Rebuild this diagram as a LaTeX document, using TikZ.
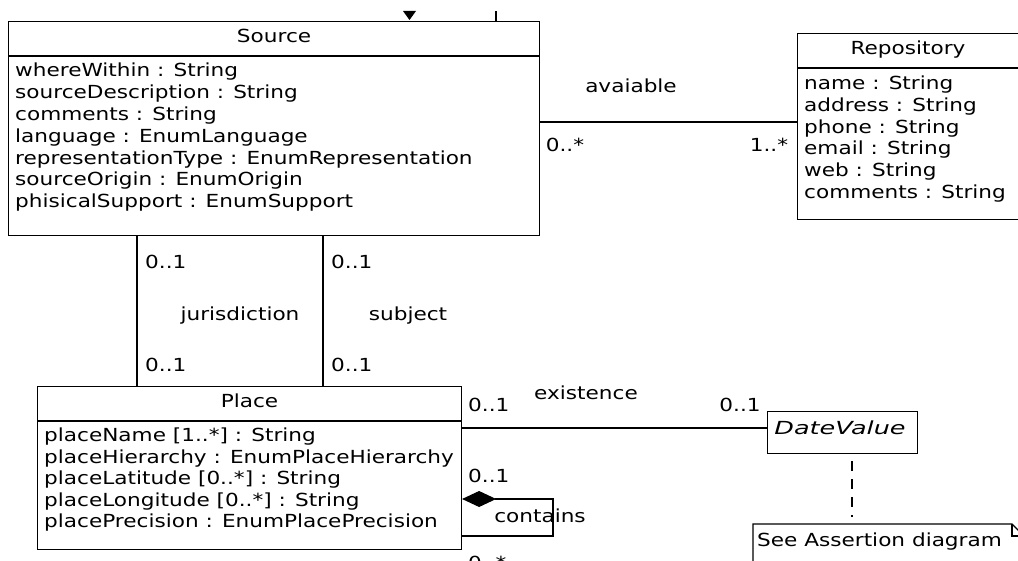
\documentclass[tikz,border=0pt]{standalone}
\usepackage{graphicx}
\usepackage{fontspec}
\setmainfont{DejaVu Sans}[FakeStretch=1.2]
\usetikzlibrary{arrows.meta,calc}
\begin{document}
\begin{tikzpicture}[x=1pt,y=-1pt,
  every node/.style={font=\fontsize{18}{21.8}\selectfont, inner sep=0pt},
  box/.style={draw, line width=1.1pt, anchor=north west, inner sep=0pt},
  attr/.style={anchor=west, text height=13pt, text depth=4pt},
  lbl/.style={text height=13pt, text depth=4pt},
  link/.style={line width=1.1pt},
  noteline/.style={line width=1.1pt, dash pattern=on 10pt off 8pt}]

\useasboundingbox (0,0) rectangle (1018,561);
\clip (0,0) rectangle (1018,561);

% ---------- class boxes ----------
\node[box, minimum width=531pt, minimum height=214pt] (source) at (8,21) {};
\node[box, minimum width=240pt, minimum height=186pt] (repo) at (797,33) {};
\node[box, minimum width=424pt, minimum height=163pt] (place) at (37,386) {};
\node[box, minimum width=150pt, minimum height=42pt] (date) at (767,411) {};

% compartment dividers
\draw[link] ($(source.north west)+(0,35)$) -- ($(source.north east)+(0,35)$);
\draw[link] ($(repo.north west)+(0,35)$) -- ($(repo.north east)+(0,35)$);
\draw[link] ($(place.north west)+(0,35)$) -- ($(place.north east)+(0,35)$);

% class names
\node[lbl] (source-title) at ($(source.north)+(0,17.5)$) {Source};
\node[lbl] (repo-title) at (908,50) {Repository};
\node[lbl] (place-title) at ($(place.north)+(0,17.5)$) {Place};
\node[lbl, font=\fontsize{18}{21.8}\selectfont\itshape] (date-title) at (840,430) {\scalebox{1.18}[1]{DateValue}};

% attributes
\foreach \t [count=\i from 0] in {{whereWithin : String},{sourceDescription : String},{comments : String},{language : EnumLanguage},{representationType : EnumRepresentation},{sourceOrigin : EnumOrigin},{phisicalSupport : EnumSupport}}
  \node[attr] (source-a\i) at (15,{72+21.9*\i}) {\t};
\foreach \t [count=\i from 0] in {{name : String},{address : String},{phone : String},{email : String},{web : String},{comments : String}}
  \node[attr] (repo-a\i) at (804,{85+21.8*\i}) {\t};
\foreach \t [count=\i from 0] in {{placeName [1..*] : String},{placeHierarchy : EnumPlaceHierarchy},{placeLatitude [0..*] : String},{placeLongitude [0..*] : String},{placePrecision : EnumPlacePrecision}}
  \node[attr] (place-a\i) at (44,{437+21.5*\i}) {\t};

% ---------- associations ----------
% avaiable
\draw[link] (source.east |- 0,122) -- (repo.west |- 0,122);
\node[lbl] (avail-name) at (631,88) {avaiable};
\node[lbl] (avail-m1) at (565,147) {0..*};
\node[lbl] (avail-m2) at (769,147) {1..*};

% jurisdiction and subject
\draw[link] (source.south -| 137,0) -- (place.north -| 137,0);
\draw[link] (source.south -| 323,0) -- (place.north -| 323,0);
\node[attr] (jur-m1) at (145,264) {0..1};
\node[attr] (jur-m2) at (145,367) {0..1};
\node[lbl] (jur-name) at (240,316) {jurisdiction};
\node[attr] (sub-m1) at (331,264) {0..1};
\node[attr] (sub-m2) at (331,367) {0..1};
\node[lbl] (sub-name) at (408,316) {subject};

% existence
\draw[link] (place.east |- 0,428) -- (date.west |- 0,428);
\node[attr] (ex-m1) at (468,407) {0..1};
\node[lbl] (ex-name) at (586,395) {existence};
\node[lbl] (ex-m2) at (740,407) {0..1};

% contains (composition on itself)
\coordinate (loop-a) at (553,499);
\coordinate (loop-b) at (553,536);
\draw[link, {Diamond[length=34pt,width=16pt]}-] (place.east |- loop-a) -- (loop-a) -- (loop-b) -- (place.east |- loop-b);
\node[attr] (con-m1) at (468,478) {0..1};
\node[lbl] (con-name) at (540,518) {contains};
\node[attr] (con-m2) at (468,565) {0..*};

% ---------- note ----------
\node[anchor=north west, minimum width=270pt, minimum height=50pt] (note) at (753,524) {};
\draw[link] (note.south west) -- (note.north west) -- ($(note.north west)+(259,0)$)
  -- ($(note.north west)+(270,11)$) -- (note.south east);
\draw[link] ($(note.north west)+(259,0)$) |- ($(note.north west)+(270,12)$);
\node[attr] (note-text) at (757,542) {See Assertion diagram};
\draw[noteline, shorten <=7pt, shorten >=7pt] (date.south -| 852,0) -- (note.north -| 852,0);

% ---------- connectors leaving the top edge ----------
\fill (403,11) -- (416,11) -- (409.5,20) -- cycle;
\draw[link] (source.north -| 496,0) -- (496,11);

\end{tikzpicture}
\end{document}
